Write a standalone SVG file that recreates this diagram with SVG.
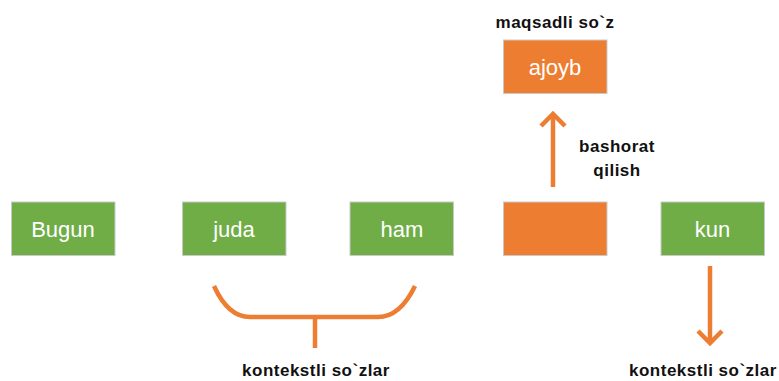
<svg xmlns="http://www.w3.org/2000/svg" width="779" height="381" viewBox="0 0 779 381">
<style>
.g{fill:#70AD47;stroke:#C9C9C9;stroke-width:1}
.o{fill:#ED7D31;stroke:#C9C9C9;stroke-width:1}
.bt{font-family:"Liberation Sans",Arial,sans-serif;font-size:22px;fill:#fff;text-anchor:middle}
.lb{font-family:"Liberation Sans",Arial,sans-serif;font-size:17px;font-weight:bold;fill:#111;letter-spacing:0.5px}
.c{fill:none;stroke:#ED7D31;stroke-width:4.5}
</style>
<rect width="779" height="381" fill="#fff"/>
<g id="bugun"><rect class="g" x="11.5" y="202" width="103.5" height="53.5"/><text class="bt" x="63" y="237">Bugun</text></g>
<g id="juda"><rect class="g" x="182.5" y="202" width="103.5" height="53.5"/><text class="bt" x="234" y="237">juda</text></g>
<g id="ham"><rect class="g" x="350" y="202" width="103.5" height="53.5"/><text class="bt" x="402" y="237">ham</text></g>
<g id="target"><rect class="o" x="503.5" y="202" width="103.5" height="53.5"/></g>
<g id="kun"><rect class="g" x="661" y="202" width="103.5" height="53.5"/><text class="bt" x="712.5" y="237">kun</text></g>
<g id="ajoyb"><rect class="o" x="503.5" y="40" width="103.5" height="53.5"/><text class="bt" x="555" y="75">ajoyb</text></g>
<g id="connectors">
<line class="c" x1="553" y1="187" x2="553" y2="115" stroke-width="6"/>
<polyline class="c" points="541,126 553,114 565,126" stroke-width="6"/>
<line class="c" x1="710" y1="266" x2="710" y2="342" stroke-width="6"/>
<polyline class="c" points="698,331 710,343 722,331" stroke-width="6"/>
<path class="c" d="M214,286 Q228,317 250,317 L378,317 Q400,317 415,286"/>
<line class="c" x1="315" y1="317" x2="315" y2="348"/>
</g>
<g id="labels">
<text class="lb" x="555" y="28" text-anchor="middle">maqsadli so`z</text>
<text class="lb" x="617" y="152" text-anchor="middle">bashorat</text>
<text class="lb" x="617" y="176" text-anchor="middle">qilish</text>
<text class="lb" x="316" y="376" text-anchor="middle">kontekstli so`zlar</text>
<text class="lb" x="629" y="376">kontekstli so`zlar</text>
</g>
</svg>
